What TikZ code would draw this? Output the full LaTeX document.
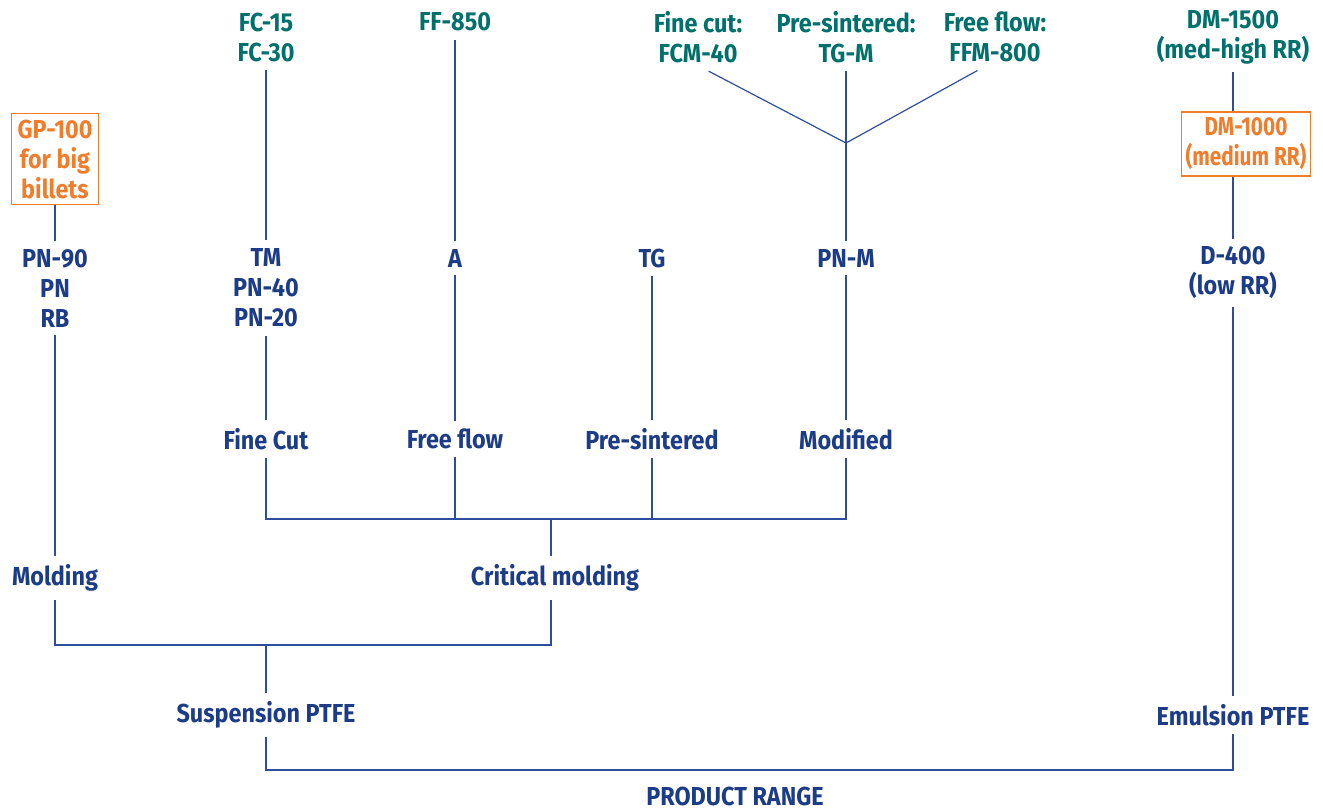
\documentclass[tikz,border=0pt]{standalone}
\usepackage{fontspec}
\setmainfont{Fira Sans}[FakeStretch=0.9]
\newfontfamily\narrowfont{Fira Sans}[FakeStretch=0.8]
\definecolor{pblue}{HTML}{1C3C87}
\definecolor{pteal}{HTML}{00706C}
\definecolor{porange}{HTML}{EF7D2C}
\definecolor{pline}{HTML}{2D4E9C}
\tikzset{
  lbl/.style={text=pblue, font=\fontsize{13}{15}\selectfont\bfseries, align=center, inner sep=4pt},
  top/.style={lbl, text=pteal},
  hot/.style={lbl, text=porange, draw=porange, line width=0.6pt, inner sep=3pt},
  wire/.style={draw=pline, line width=0.6pt}
}
\begin{document}
\begin{tikzpicture}[x=0.5pt,y=-0.5pt]
                    \useasboundingbox (0,0) rectangle (1323,810);
                    \node[hot] (gp) at (55,159) {GP-100\\for big\\billets};
                    \node[lbl] (pn) at (55,288) {PN-90\\PN\\RB};
                    \node[lbl] (mold) at (55,578) {Molding};
                    \node[lbl] (crit) at (555,578) {Critical molding};
                    \node[lbl] (susp) at (266,715) {Suspension PTFE};
                    \node[lbl] (emul) at (1233,715) {Emulsion PTFE};
                    \node[lbl, inner ysep=1pt] (range) at (735,796) {PRODUCT RANGE};

                    \node[top] (fc) at (266,37) {FC-15\\FC-30};
                    \node[top] (ff) at (455,22) {FF-850};
                    \node[top] (fcm) at (698,37) {Fine cut:\\FCM-40};
                    \node[top] (tgm) at (846,37) {Pre-sintered:\\TG-M};
                    \node[top] (ffm) at (995,37) {Free flow:\\FFM-800};
                    \node[top] (dmh) at (1233,37) {DM-1500\\(med-high RR)};
                    \node[hot, font=\fontsize{13}{15}\selectfont\narrowfont\bfseries, inner xsep=2pt] (dmm) at (1246,144) {DM-1000\\(medium RR)};

                    \node[lbl] (tm) at (266,288) {TM\\PN-40\\PN-20};
                    \node[lbl] (a) at (455,258) {A};
                    \node[lbl] (tg) at (652,258) {TG};
                    \node[lbl] (pnm) at (846,258) {PN-M};
                    \node[lbl] (d4) at (1233,273) {D-400\\(low RR)};

                    \node[lbl] (fine) at (266,439) {Fine Cut};
                    \node[lbl] (free) at (455,439) {Free flow};
                    \node[lbl] (pres) at (652,439) {Pre-sintered};
                    \node[lbl] (modi) at (846,439) {Modified};

                    \coordinate (jn) at (846,143);
                    \coordinate (cm) at (551,519);
                    \coordinate (sp) at (266,645);

                    \draw[wire] (gp) -- (pn);
                    \draw[wire] (pn) -- (mold);
                    \draw[wire] (mold) |- (sp) -| (crit.south -| cm);
                    \draw[wire] (sp) -- (susp);
                    \draw[wire] (susp) |- (1233,770) -- (emul);

                    \draw[wire] (fc) -- (tm);
                    \draw[wire] (tm) -- (fine);
                    \draw[wire] (ff) -- (a);
                    \draw[wire] (a) -- (free);
                    \draw[wire] (tg) -- (pres);
                    \draw[wire] (fcm.south east) ++(-42,0) -- (jn);
                    \draw[wire] (tgm) -- (jn);
                    \draw[wire] (ffm.south west) ++(42,0) -- (jn);
                    \draw[wire] (jn) -- (pnm);
                    \draw[wire] (pnm) -- (modi);

                    \draw[wire] (fine) |- (cm);
                    \draw[wire] (modi) |- (cm);
                    \draw[wire] (free) -- (free |- cm);
                    \draw[wire] (pres) -- (pres |- cm);
                    \draw[wire] (cm) -- (crit.north -| cm);

                    \draw[wire] (dmh) -- (dmh |- dmm.north);
                    \draw[wire] (dmh |- dmm.south) -- (d4);
                    \draw[wire] (d4) -- (emul);
                \end{tikzpicture}
\end{document}
